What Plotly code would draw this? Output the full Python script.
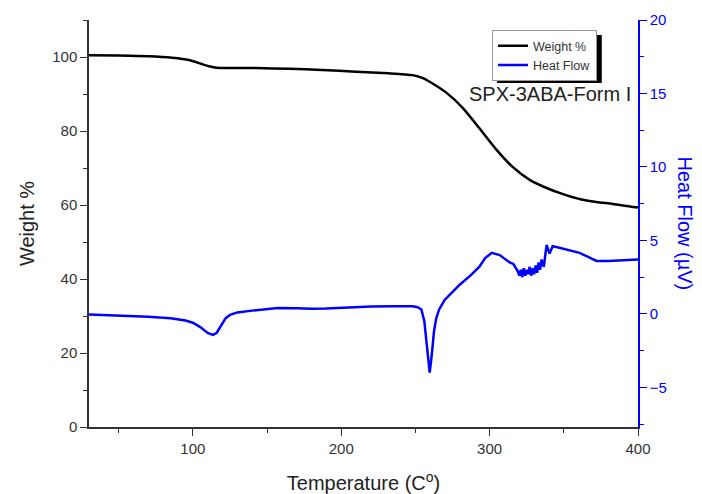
import plotly.graph_objects as go

# Weight % (left axis)
wt_temp = [30, 50, 70, 86, 97.3, 106, 111, 116, 125, 142.5, 165, 187, 210, 232, 248, 255,
           259.6, 271, 282, 293, 304.7, 315.5, 327, 338.4, 349, 360.6, 372, 383, 400]
wt_val = [100.5, 100.4, 100.2, 99.8, 99.2, 98.1, 97.5, 97.1, 97.0, 97.0, 96.8, 96.5, 96.0,
          95.6, 95.1, 94.3, 93.3, 90.3, 86.2, 80.8, 74.9, 70.3, 66.8, 64.6, 63.0, 61.6,
          60.8, 60.3, 59.3]

# Heat flow (right axis)
hf_temp = [30, 50, 70, 85, 95, 100, 105, 110, 113.5, 116, 119, 122, 125, 130, 140, 150, 157,
           170, 180, 190, 200, 210, 220, 235, 248, 251.5, 254, 256, 258, 259.6, 261, 262.5,
           264, 266, 269.7, 275, 280, 287, 293, 297, 301.4, 306.8, 313.5, 316, 318,
           319, 320, 321, 322, 323, 324, 325, 326, 327, 328, 329, 330, 331, 332, 333, 334,
           335, 336.5, 338.4, 340.4, 342.5, 345, 347, 354, 360.6, 366, 372, 380, 390, 400]
hf_val = [-0.05, -0.1, -0.2, -0.3, -0.45, -0.6, -0.9, -1.3, -1.43, -1.3, -0.8, -0.3, -0.07,
          0.1, 0.22, 0.3, 0.4, 0.38, 0.34, 0.36, 0.42, 0.48, 0.5, 0.52, 0.52, 0.45, 0.3,
          -0.5, -2.5, -4.0, -2.8, -1.2, -0.3, 0.3, 0.95, 1.5, 2.0, 2.6, 3.2, 3.8, 4.15, 4.0,
          3.5, 3.4, 3.1,
          2.9, 2.6, 3.0, 2.5, 3.1, 2.6, 3.0, 2.7, 3.2, 2.6, 3.1, 2.7, 3.3, 2.8, 3.5, 3.0,
          3.7, 3.2, 4.7, 4.1, 4.6, 4.55, 4.5, 4.3, 4.15, 3.9, 3.6, 3.6, 3.65, 3.7]

FONT = "Liberation Sans, Arial, sans-serif"
BLUE = "#0000ff"
DARK = "#333333"
TXT = "#222222"

fig = go.Figure()
fig.add_trace(go.Scatter(x=wt_temp, y=wt_val, name="Weight %", mode="lines",
                         line=dict(color="black", width=2.5, shape="spline", smoothing=0.6),
                         xaxis="x", yaxis="y"))
fig.add_trace(go.Scatter(x=hf_temp, y=hf_val, name="Heat Flow", mode="lines",
                         line=dict(color=BLUE, width=2.5),
                         xaxis="x", yaxis="y2"))

fig.update_layout(
    width=694, height=486,
    margin=dict(l=81, r=64, t=12, b=67),
    paper_bgcolor="white", plot_bgcolor="white",
    font=dict(family=FONT, size=15, color="#333333"),
    showlegend=True,
    legend=dict(x=0.734, y=0.975, xanchor="left", yanchor="top",
                bgcolor="white", bordercolor="#999999", borderwidth=1,
                font=dict(size=12.5, color="#333333"), tracegroupgap=0,
                itemwidth=30),
    xaxis=dict(range=[30, 400], tickvals=[100, 200, 300, 400], automargin=False,
               showgrid=False, zeroline=False,
               showline=True, linecolor=DARK, linewidth=1.5,
               ticks="outside", ticklen=7, tickwidth=1.2, tickcolor=DARK,
               minor=dict(ticks="outside", ticklen=4, tickwidth=1.2, tickcolor=DARK,
                          tickvals=[50, 150, 250, 350]),
               title=dict(text="Temperature (C<sup>o</sup>)", font=dict(size=20, color=TXT),
                          standoff=23)),
    xaxis2=dict(range=[30, 400], overlaying="x", side="top", matches="x", automargin=False,
                tickvals=[100, 200, 300, 400], showticklabels=False,
                showgrid=False, zeroline=False,
                showline=True, linecolor=DARK, linewidth=1.5,
                ticks="inside", ticklen=7, tickwidth=1.2, tickcolor=DARK,
                minor=dict(ticks="inside", ticklen=4, tickwidth=1.2, tickcolor=DARK,
                           tickvals=[50, 150, 250, 350])),
    yaxis=dict(range=[0, 110], tickvals=[0, 20, 40, 60, 80, 100], automargin=False,
               showgrid=False, zeroline=False,
               showline=True, linecolor=DARK, linewidth=1.5,
               ticks="outside", ticklen=7, tickwidth=1.2, tickcolor=DARK,
               minor=dict(ticks="outside", ticklen=4, tickwidth=1.2, tickcolor=DARK,
                          tickvals=[10, 30, 50, 70, 90, 110]),
               title=dict(text="Weight %", font=dict(size=20, color=TXT), standoff=12)),
    yaxis2=dict(range=[-7.7, 20], overlaying="y", side="right", anchor="x", automargin=False,
                tickvals=[-5, 0, 5, 10, 15, 20],
                showgrid=False, zeroline=False,
                showline=True, linecolor=BLUE, linewidth=1.5,
                ticks="outside", ticklen=7, tickwidth=1.2, tickcolor=BLUE,
                tickfont=dict(color=BLUE, size=15),
                minor=dict(ticks="outside", ticklen=4, tickwidth=1.2, tickcolor=BLUE,
                           tickvals=[-7.5, -2.5, 2.5, 7.5, 12.5, 17.5])),
    shapes=[dict(type="rect", xref="paper", yref="paper",
                 x0=0.743, x1=0.934, y0=0.845, y1=0.963,
                 fillcolor="black", line=dict(width=0), layer="above")],
    annotations=[
        dict(text="SPX-3ABA-Form I", xref="paper", yref="paper", x=0.991, y=0.818,
             xanchor="right", yanchor="middle", showarrow=False,
             font=dict(size=20, color=TXT)),
        dict(text="Heat Flow (µV)", xref="paper", yref="paper", x=1.0, y=0.5,
             xanchor="center", yanchor="middle", xshift=47, textangle=90,
             showarrow=False, font=dict(size=20, color=BLUE)),
    ],
)

fig.write_html("out.html")
